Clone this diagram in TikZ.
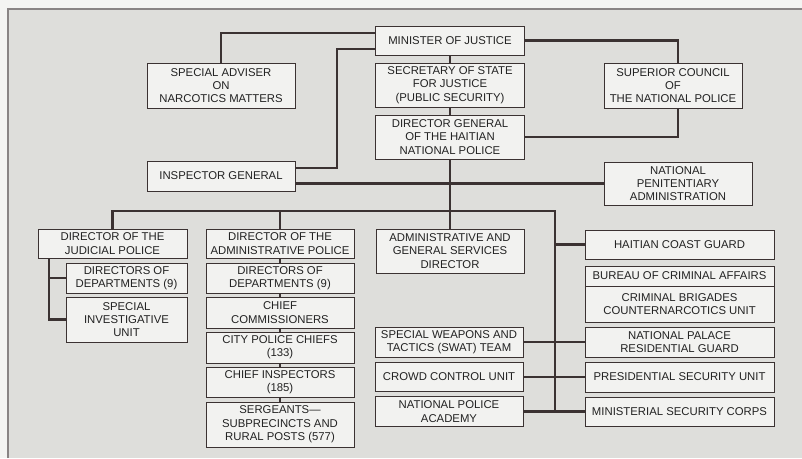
\documentclass[tikz,border=0pt]{standalone}
\usepackage{fontspec}
\setmainfont{Liberation Sans}
\usetikzlibrary{calc}
\definecolor{paper}{HTML}{F4F4F2}
\definecolor{panel}{HTML}{DEDEDB}
\definecolor{boxfill}{HTML}{F2F2F0}
\definecolor{ink}{HTML}{3B3232}
\definecolor{inktext}{HTML}{222222}
\tikzset{
  orgbox/.style 2 args={
    rectangle, draw=ink, fill=boxfill, line width=0.7pt,
    minimum width=#1*0.75pt, minimum height=#2*0.75pt,
    inner sep=1pt, align=center, text=inktext,
    font=\fontsize{8.5}{10}\selectfont
  },
  link/.style={draw=ink, line width=1.8pt},
  stacklink/.style={draw=ink, line width=1.1pt},
  framerule/.style={draw=ink!60, line width=0.8pt},
}
\begin{document}
\begin{tikzpicture}[x=0.75pt, y=-0.75pt]
  \useasboundingbox (0,0) rectangle (802,458);
  \fill[paper] (0,0) rectangle (802,458);
  \fill[panel] (8,9) rectangle (802,458);
  \draw[framerule] (8,458) -- (8,9) -- (802,9);

  % Top of the chain
  \node[orgbox={149}{29}] (minister) at (450,40.5) {MINISTER OF JUSTICE};
  \node[orgbox={149}{44}] (secretary) at (450,85) {SECRETARY OF STATE\\FOR JUSTICE\\(PUBLIC SECURITY)};
  \node[orgbox={149}{44}] (dg) at (450,137) {DIRECTOR GENERAL\\OF THE HAITIAN\\NATIONAL POLICE};
  \node[orgbox={148}{45}] (adviser) at (221,85.5) {SPECIAL ADVISER\\ON\\NARCOTICS MATTERS};
  \node[orgbox={148}{30}] (inspector) at (221,176) {INSPECTOR GENERAL};
  \node[orgbox={138}{45}] (council) at (673,85.5) {SUPERIOR COUNCIL\\OF\\THE NATIONAL POLICE};
  \node[orgbox={148}{43}] (penit) at (678,183.5) {NATIONAL\\PENITENTIARY\\ADMINISTRATION};

  % Judicial police
  \node[orgbox={149}{29}] (judicial) at (112.5,243.5) {DIRECTOR OF THE\\JUDICIAL POLICE};
  \node[orgbox={121}{30}] (jdept) at (126.5,278) {DIRECTORS OF\\DEPARTMENTS (9)};
  \node[orgbox={121}{45}] (jsiu) at (126.5,319.5) {SPECIAL\\INVESTIGATIVE\\UNIT};

  % Administrative police
  \node[orgbox={148}{29}] (apolice) at (280,243.5) {DIRECTOR OF THE\\ADMINISTRATIVE POLICE};
  \node[orgbox={148}{30}] (adept) at (280,278) {DIRECTORS OF\\DEPARTMENTS (9)};
  \node[orgbox={148}{31}] (chiefcomm) at (280,312.5) {CHIEF\\COMMISSIONERS};
  \node[orgbox={148}{31}] (citychiefs) at (280,347.5) {CITY POLICE CHIEFS\\(133)};
  \node[orgbox={148}{30}] (chiefinsp) at (280,382) {CHIEF INSPECTORS\\(185)};
  \node[orgbox={148}{45}] (sergeants) at (280,424.5) {SERGEANTS\textemdash\\SUBPRECINCTS AND\\RURAL POSTS (577)};

  % Middle column
  \node[orgbox={148}{44}] (admingen) at (450,251) {ADMINISTRATIVE AND\\GENERAL SERVICES\\DIRECTOR};
  \node[orgbox={148}{30}] (swat) at (449,342) {SPECIAL WEAPONS AND\\TACTICS (SWAT) TEAM};
  \node[orgbox={148}{29}] (crowd) at (449,377) {CROWD CONTROL UNIT};
  \node[orgbox={148}{30}] (academy) at (449,411.5) {NATIONAL POLICE\\ACADEMY};

  % Right column
  \node[orgbox={189}{29}] (coast) at (679.5,244.5) {HAITIAN COAST GUARD};
  \node[orgbox={189}{20}] (bureau) at (679.5,276) {BUREAU OF CRIMINAL AFFAIRS};
  \node[orgbox={189}{36}] (brigades) at (679.5,304) {CRIMINAL BRIGADES\\COUNTERNARCOTICS UNIT};
  \node[orgbox={189}{30}] (palace) at (679.5,342) {NATIONAL PALACE\\RESIDENTIAL GUARD};
  \node[orgbox={189}{30}] (presidential) at (679.5,377) {PRESIDENTIAL SECURITY UNIT};
  \node[orgbox={189}{29}] (ministerial) at (679.5,411.5) {MINISTERIAL SECURITY CORPS};

  % Bends and buses
  \coordinate (cbus) at (678,40.5);
  \coordinate (ibend) at (337,49);
  \coordinate (rtop) at (555,211);
  \coordinate (rbot) at (555,411.5);
  \coordinate (jbr) at (49,258);

  % Links from the minister
  \draw[link] (minister) -- (secretary) -- (dg);
  \draw[link] ($(minister.west)+(0,-7.5)$) -| (adviser.north);
  \draw[link] (minister.west |- ibend) -- (ibend) |- ($(inspector.east)+(0,-8)$);
  \draw[link] (minister.east) -| (cbus |- council.north);
  \draw[link] (cbus |- council.south) |- (dg.east);

  % Trunk and buses
  \draw[link] (dg.south) -- (admingen.north);
  \draw[link] ($(inspector.east)+(0,7.5)$) -- (penit.west);
  \draw[link] (judicial.north) |- (rtop) -- (rbot);
  \draw[link] (apolice.north) -- (apolice.north |- rtop);
  \draw[link] (jbr) |- (jsiu.west);
  \draw[link] (jdept.west) -- (jdept.west -| jbr);
  \foreach \a/\b in {apolice/adept, adept/chiefcomm, chiefcomm/citychiefs,
                     citychiefs/chiefinsp, chiefinsp/sergeants}
    \draw[stacklink] (\a.south) -- (\b.north);

  % Right side
  \draw[link] (coast.west) -- (coast.west -| rtop);
  \draw[link] ($(brigades.north west)+(0,6)$) -- ($(brigades.north west)+(0,6)$ -| rtop);
  \draw[link] (swat.east) -- (palace.west);
  \draw[link] (crowd.east) -- (presidential.west);
  \draw[link] (academy.east) -- (ministerial.west);
\end{tikzpicture}
\end{document}
